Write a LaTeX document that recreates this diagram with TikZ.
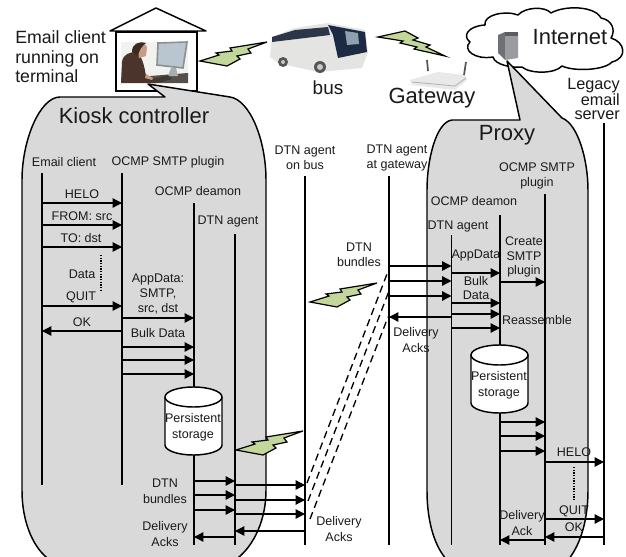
\documentclass[tikz,border=0pt]{standalone}
\usepackage{fontspec}
\setmainfont{Liberation Sans}
\usetikzlibrary{arrows.meta}
\definecolor{panel}{HTML}{D9D9D9}
\definecolor{boltgreen}{HTML}{C4D79B}
\definecolor{inkc}{HTML}{1A1A1A}
\definecolor{photobg}{HTML}{F2F2EE}
\definecolor{desk}{HTML}{55504C}
\definecolor{monframe}{HTML}{8A8F94}
\definecolor{screenc}{HTML}{B9C6D0}
\definecolor{standc}{HTML}{A9ADB0}
\definecolor{keyb}{HTML}{3D3A38}
\definecolor{shirt}{HTML}{4A342C}
\definecolor{skin}{HTML}{C79C85}
\definecolor{hair}{HTML}{3B2A22}
\definecolor{srvside}{HTML}{6E7074}
\definecolor{srvfront}{HTML}{9A9C9F}
\definecolor{srvtop}{HTML}{5A5C60}
\definecolor{busbody}{HTML}{E4E4E2}
\definecolor{buswin}{HTML}{2C3648}
\definecolor{busfront}{HTML}{1C2A44}
\definecolor{buslite}{HTML}{8FA0B0}
\definecolor{tyre}{HTML}{555555}
\definecolor{hub}{HTML}{C8C8C8}
\definecolor{rtr}{HTML}{E9E9E9}
\definecolor{rtrl}{HTML}{B0B0B0}
\tikzset{
  x=0.75pt,y=-0.75pt,
  every node/.style={inner sep=0pt,text=inkc},
  small/.style={align=center,font=\fontsize{9.4}{11}\selectfont},
  mid/.style={align=left,font=\fontsize{13.3}{14.6}\selectfont},
  big/.style={font=\fontsize{16.5}{18}\selectfont},
  panelshape/.style={draw=black,fill=panel,line width=1.1pt,line join=round},
  life/.style={draw=black,line width=1pt},
  msg/.style={draw=black,line width=1pt,-{Triangle[length=7pt,width=7pt]}},
  dots/.style={draw=black,line width=1pt,dash pattern=on 1pt off 1pt},
  radio/.style={draw=black,line width=1pt,dash pattern=on 5.5pt off 3.5pt},
  boltshape/.style={draw=black,fill=boltgreen,line width=0.9pt,line join=miter},
  store/.style={draw=black,fill=white,line width=1.1pt},
  pics/bolt/.style={code={
    \draw[boltshape] (0,0) -- (19,-6) -- (16,-8) -- (32,-10) -- (30,-13) -- (67,-19)
      -- (48,-12) -- (51,-8) -- (37,-5) -- (40,-2) -- (27,5) -- cycle;
  }}
}
\newcommand{\msg}[3]{\draw[msg] (#1 |- 0,#3) -- (#2 |- 0,#3);}
\newcommand{\lifeline}[4]{\coordinate (#1) at (#2,0); \draw[life] (#2,#3) -- (#2,#4);}
\newcommand{\storecyl}[4]{%
  \draw[store] (#1,#3) arc[start angle=180,end angle=360,x radius=#4,y radius=10]
    -- (#2,#3+48) arc[start angle=0,end angle=180,x radius=#4,y radius=10] -- cycle;
  \draw[store] (#1,#3) arc[start angle=180,end angle=0,x radius=#4,y radius=10];}
\begin{document}
\begin{tikzpicture}
\useasboundingbox (0,0) rectangle (626,557);
\clip (0,0) rectangle (626,557);
\fill[white] (0,0) rectangle (626,557);

% house
\draw[black,line width=1.1pt,line join=round,fill=white] (110,31) -- (156,8) -- (206,31) -- cycle;
\draw[black,line width=1.1pt,fill=white] (116,32) rectangle (197,91);
% photo
\fill[photobg] (121,42) rectangle (188,83);
\fill[desk] (150,76) -- (188,73) -- (188,83) -- (150,83) -- cycle;
\draw[draw=monframe,fill=screenc,line width=1.2pt] (158,43) -- (187,42) -- (183,68) -- (157,65) -- cycle;
\fill[standc] (171,68) -- (176,68) -- (178,76) -- (168,76) -- cycle;
\fill[keyb] (153,79) -- (168,75) -- (172,79) -- (158,83) -- cycle;
\fill[shirt] (122,62) .. controls (123,54) and (130,52) .. (136,52) .. controls (142,56) and (144,64) .. (146,76) -- (158,80) -- (156,83) -- (121,83) -- cycle;
\fill[skin] (137,46) .. controls (138,43) and (146,43) .. (147,47) -- (146,56) -- (139,58) -- cycle;
\fill[hair] (132,52) .. controls (132,44) and (138,41) .. (146,43) .. controls (142,46) and (139,50) .. (138,56) -- cycle;
\fill[skin] (146,74) -- (153,78) -- (152,80) -- (145,78) -- cycle;

% cloud
\draw[black,line width=1.1pt,fill=white,line join=round] (470,42)
  .. controls (462,36) and (468,26) .. (485,25)
  .. controls (483,15) and (505,10) .. (518,15)
  .. controls (525,7) and (545,6) .. (551,13)
  .. controls (565,5) and (595,6) .. (601,18)
  .. controls (612,20) and (616,30) .. (611,38)
  .. controls (625,42) and (628,58) .. (612,62)
  .. controls (605,70) and (575,72) .. (562,66)
  .. controls (555,74) and (530,74) .. (522,67)
  .. controls (512,68) and (495,65) .. (493,57)
  .. controls (475,60) and (462,50) .. (470,42) -- cycle;

% panels
\draw[panelshape] (60,97) -- (165,97) -- (148,84) -- (230,97)
  .. controls (250,100) and (266,140) .. (266,180) -- (266,490)
  .. controls (266,525) and (250,550) .. (235,560) -- (50,560)
  .. controls (35,550) and (22,525) .. (22,490) -- (22,180)
  .. controls (22,140) and (40,97) .. (60,97) -- cycle;
\draw[panelshape] (452,120) -- (520,120) -- (507,61) -- (562,118)
  .. controls (578,124) and (588,160) .. (588,190) -- (588,490)
  .. controls (588,525) and (578,548) .. (568,560) -- (447,560)
  .. controls (436,548) and (427,525) .. (427,490) -- (427,190)
  .. controls (427,160) and (436,122) .. (452,120) -- cycle;

% server
\fill[srvside] (498,35) -- (505,32) -- (505,60) -- (498,53) -- cycle;
\fill[srvfront] (505,32) -- (518,32) -- (518,58) -- (505,60) -- cycle;
\fill[srvtop] (505,32) rectangle (518,36);

% bus
\fill[busbody] (272,37) -- (295,28) -- (328,23) -- (365,30) -- (368,52) -- (362,68) -- (318,72) -- (278,63) -- (270,57) -- cycle;
\fill[buswin] (272,37) -- (295,30) -- (328,27) -- (330,35) -- (272,42) -- cycle;
\fill[busfront] (328,25) -- (365,32) -- (367,52) -- (338,58) -- (333,35) -- cycle;
\fill[buslite] (345,31) -- (358,33) -- (359,44) -- (347,45) -- cycle;
\fill[tyre] (283,62) circle (5) (320,67) circle (6);
\fill[hub] (283,62) circle (2) (320,67) circle (3);

% router
\fill[rtr] (410,80) -- (438,72) -- (465,75) -- (467,80) -- (455,90) -- (412,85) -- cycle;
\draw[draw=rtrl,line width=0.6pt] (412,82) -- (455,86) -- (466,78);
\draw[draw=tyre,line width=1.3pt] (427,60) -- (428,71) (466,62) -- (464,75);

% bolts
\pic at (200,61) {bolt};
\pic at (236,450) {bolt};
\pic at (310,302) {bolt};
\draw[boltshape] (378,37) -- (405,31) -- (418,38) -- (413,40) -- (430,45) -- (426,47)
  -- (445,56) -- (414,49) -- (417,47) -- (400,43) -- (403,41) -- cycle;

% radio paths
\coordinate (ra1) at (307,483); \coordinate (rb1) at (387,274);
\coordinate (ra2) at (308,501); \coordinate (rb2) at (389,291);
\coordinate (ra3) at (310,519); \coordinate (rb3) at (388,317);
\draw[radio] (ra1) -- (rb1);
\draw[radio] (ra2) -- (rb2);
\draw[radio] (ra3) -- (rb3);

% lifelines
\lifeline{ec}{42}{173}{485}
\lifeline{sp}{122}{173}{485}
\lifeline{dm}{194}{203}{545}
\lifeline{ag}{235}{234}{545}
\lifeline{bu}{305}{176}{545}
\lifeline{gw}{389}{176}{545}
\lifeline{pa}{451.5}{235}{545}
\lifeline{pd}{500}{215}{545}
\lifeline{ps}{545}{194}{545}
\lifeline{ls}{604}{123}{545}

% storage
\storecyl{165}{222}{397}{28.5}
\storecyl{471}{528}{355}{28.5}

% messages, kiosk
\msg{ec}{sp}{203}
\msg{ec}{sp}{225}
\msg{ec}{sp}{247}
\msg{ec}{sp}{306}
\msg{sp}{ec}{331}
\msg{sp}{dm}{318}
\msg{sp}{dm}{347}
\msg{sp}{dm}{360}
\msg{sp}{dm}{374}
\msg{dm}{ag}{481}
\msg{dm}{ag}{495}
\msg{dm}{ag}{510}
\msg{ag}{dm}{537}
\msg{ag}{bu}{485}
\msg{ag}{bu}{500}
\msg{ag}{bu}{514}
\msg{bu}{ag}{531}
% messages, proxy
\msg{gw}{pa}{266}
\msg{gw}{pa}{281}
\msg{gw}{pa}{296}
\msg{pa}{gw}{317}
\msg{pa}{pd}{273}
\msg{pa}{pd}{303}
\msg{pa}{pd}{314}
\msg{pa}{pd}{328}
\msg{pd}{ps}{282}
\msg{pd}{ps}{422}
\msg{pd}{ps}{436}
\msg{pd}{ps}{451}
\msg{ps}{ls}{462}
\msg{ps}{ls}{519}
\msg{ls}{ps}{537}
\msg{ps}{pd}{540}
\draw[dots] (101,255) -- (101,290);
\draw[dots] (574,467) -- (574,500);

% text
\node[mid,anchor=west] (t1) at (15,57) {Email client\\running on\\terminal};
\node[big] (t2) at (134,116) {Kiosk controller};
\node[big] (t3) at (570,37) {Internet};
\node[big] (t4) at (432,98) {Gateway};
\node[font=\fontsize{14.2}{16}\selectfont] (t5) at (328,88) {bus};
\node[big] (t6) at (507,135) {Proxy};
\node[align=right,anchor=east,font=\fontsize{12.2}{10.8}\selectfont] (t7) at (620,99) {Legacy\\email\\server};

\node[small] (a1) at (64,162) {Email client};
\node[small] (a2) at (168,162) {OCMP SMTP plugin};
\node[small] (a3) at (198,191) {OCMP deamon};
\node[small] (a4) at (228,221) {DTN agent};
\node[small] (a5) at (82,194) {HELO};
\node[small] (a6) at (82,216) {FROM: src};
\node[small] (a7) at (81,238) {TO: dst};
\node[small] (a8) at (82,274) {Data};
\node[small] (a9) at (81,297) {QUIT};
\node[small] (a10) at (82,322) {OK};
\node[small] (a11) at (158,294) {AppData:\\SMTP,\\src, dst};
\node[small] (a12) at (158,333) {Bulk Data};
\node[small] (a13) at (193,427) {Persistent\\[1pt]storage};
\node[small] (a14) at (165,491) {DTN\\[1pt]bundles};
\node[small] (a15) at (165,534) {Delivery\\[1pt]Acks};

\node[small] (b1) at (305,158) {DTN agent\\on bus};
\node[small] (b2) at (397,158) {DTN agent\\at gateway};
\node[small] (b3) at (537,176) {OCMP SMTP\\plugin};
\node[small] (b4) at (474,201) {OCMP deamon};
\node[small] (b5) at (458,226) {DTN agent};
\node[small] (b6) at (359,255) {DTN\\bundles};
\node[small] (b7) at (476,255) {AppData};
\node[small] (b8) at (476,288) {Bulk\\Data};
\node[small] (b9) at (524,257) {Create\\SMTP\\plugin};
\node[small] (b10) at (537,320) {Reassemble};
\node[small] (b11) at (416,340) {Delivery\\[1pt]Acks};
\node[small] (b12) at (499,385) {Persistent\\[1pt]storage};
\node[small] (b13) at (574,452) {HELO};
\node[small] (b14) at (574,511) {QUIT};
\node[small] (b15) at (574,527) {OK};
\node[small] (b16) at (522,523) {Delivery\\[1pt]Ack};
\node[small] (b17) at (339,529) {Delivery\\[1pt]Acks};
\end{tikzpicture}
\end{document}
